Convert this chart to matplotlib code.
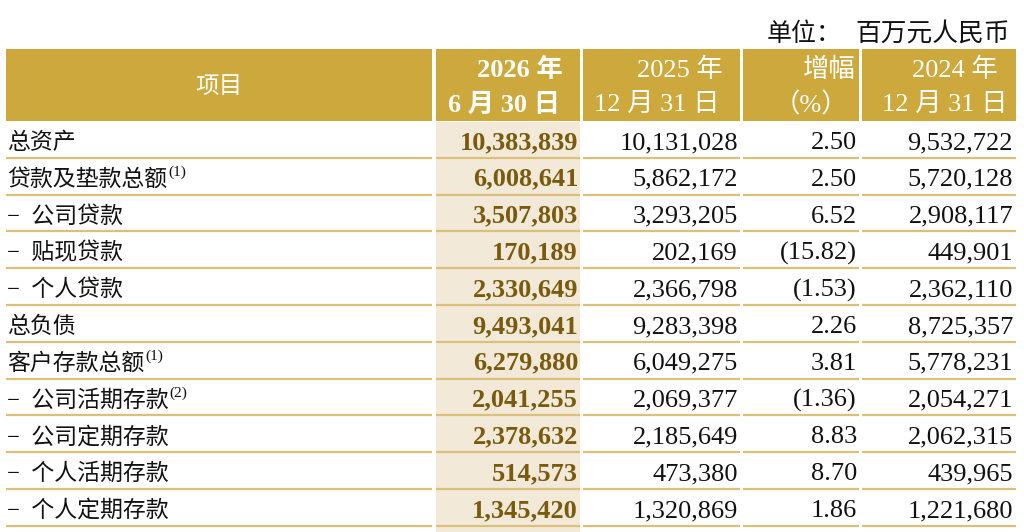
import matplotlib
matplotlib.use("Agg")
import matplotlib.pyplot as plt
from matplotlib.patches import Rectangle

# ---------------- data ----------------
unit_prefix = "单位："
unit_name = "百万元人民币"
header_item = "项目"
header_cols = [("2026 年", "6 月 30 日"), ("2025 年", "12 月 31 日"),
               ("增幅", "（%）"), ("2024 年", "12 月 31 日")]
row_labels = ["总资产", "贷款及垫款总额", "−  公司贷款", "−  贴现贷款", "−  个人贷款",
              "总负债", "客户存款总额", "−  公司活期存款", "−  公司定期存款",
              "−  个人活期存款", "−  个人定期存款"]
row_notes = ["", "(1)", "", "", "", "", "(1)", "(2)", "", "", ""]
val_2026h1 = ["10,383,839", "6,008,641", "3,507,803", "170,189", "2,330,649",
              "9,493,041", "6,279,880", "2,041,255", "2,378,632", "514,573", "1,345,420"]
val_2025 = ["10,131,028", "5,862,172", "3,293,205", "202,169", "2,366,798",
            "9,283,398", "6,049,275", "2,069,377", "2,185,649", "473,380", "1,320,869"]
val_change = ["2.50", "2.50", "6.52", "(15.82)", "(1.53)", "2.26", "3.81",
              "(1.36)", "8.83", "8.70", "1.86"]
val_2024 = ["9,532,722", "5,720,128", "2,908,117", "449,901", "2,362,110",
            "8,725,357", "5,778,231", "2,054,271", "2,062,315", "439,965", "1,221,680"]

# ---------------- style ----------------
GOLD = "#CDA93D"
LINE = "#DCC07A"
HILITE = "#F2E9D8"
BOLDNUM = "#7A5A0C"
FAM = ["Liberation Serif", "Noto Sans CJK SC", "DejaVu Sans"]
CJK = ["Noto Sans CJK SC", "Liberation Serif", "DejaVu Sans"]

fig = plt.figure(figsize=(10.24, 5.32), dpi=100)
ax = fig.add_axes([0, 0, 1, 1])
ax.set_xlim(0, 1024)
ax.set_ylim(532, 0)
ax.axis("off")

cols = [(6, 432), (436, 580), (583, 740), (743, 859), (862, 1016)]
head_top, head_bot = 49, 121
row_h = 36.8
nrows = len(row_labels)

# header cells
for (x0, x1) in cols:
    ax.add_patch(Rectangle((x0, head_top), x1 - x0, head_bot - head_top,
                           facecolor=GOLD, edgecolor="none"))
# highlight column
ax.add_patch(Rectangle((cols[1][0], head_bot + 1), cols[1][1] - cols[1][0],
                       row_h * nrows + 6, facecolor=HILITE, edgecolor="none"))

# row lines
for i in range(1, nrows + 1):
    y = head_bot + i * row_h
    for (x0, x1) in cols:
        ax.plot([x0, x1], [y, y], color=LINE, lw=1.6, solid_capstyle="butt")

# unit label
ax.text(767, 41, unit_prefix, ha="left", va="baseline", fontsize=18,
        family=CJK, color="#111111")
ax.text(1010, 41, unit_name, ha="right", va="baseline", fontsize=18.5,
        family=CJK, color="#111111")

# header text
ax.text((cols[0][0] + cols[0][1]) / 2, 93, header_item, ha="center", va="baseline",
        fontsize=17, family=CJK, color="white")
hdr_right = [(563, 560), (723, 720), (856, 848), (998, 1008)]
for j, ((l1, l2), (r1, r2)) in enumerate(zip(header_cols, hdr_right)):
    w = "bold" if j == 0 else "normal"
    ax.text(r1, 77, l1, ha="right", va="baseline", fontsize=19, family=FAM,
            color="white", fontweight=w)
    ax.text(r2, 112, l2, ha="right", va="baseline", fontsize=19, family=FAM,
            color="white", fontweight=w)

fig.canvas.draw()
renderer = fig.canvas.get_renderer()

num_right = [578, 738, 857, 1013]
for i in range(nrows):
    yb = head_bot + i * row_h + 28
    t = ax.text(7, yb, row_labels[i], ha="left", va="baseline", fontsize=16.5,
                family=FAM, color="#111111")
    if row_notes[i]:
        bb = t.get_window_extent(renderer=renderer)
        xd = ax.transData.inverted().transform((bb.x1, 0))[0]
        ax.text(xd + 1, yb - 10, row_notes[i], ha="left", va="baseline",
                fontsize=11, family=FAM, color="#111111")
    ax.text(num_right[0], yb, val_2026h1[i], ha="right", va="baseline",
            fontsize=19, family=FAM, fontweight="bold", color=BOLDNUM)
    ax.text(num_right[1], yb, val_2025[i], ha="right", va="baseline",
            fontsize=19, family=FAM, color="#111111")
    ax.text(num_right[2], yb, val_change[i], ha="right", va="baseline",
            fontsize=19, family=FAM, color="#111111")
    ax.text(num_right[3], yb, val_2024[i], ha="right", va="baseline",
            fontsize=19, family=FAM, color="#111111")

fig.savefig("out.png", dpi=100)
